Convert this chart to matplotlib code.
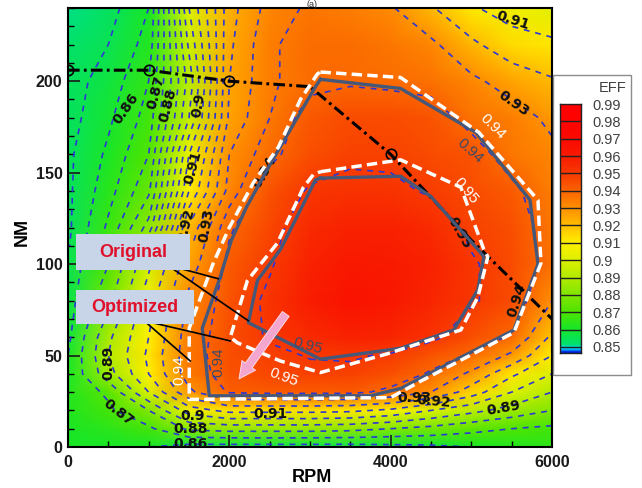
import numpy as np
import matplotlib.pyplot as plt
from matplotlib.colors import LinearSegmentedColormap, Normalize
from matplotlib.patches import Rectangle
from matplotlib.ticker import MultipleLocator

plt.rcParams['font.family'] = ['Liberation Sans', 'DejaVu Sans']

# --- efficiency map (rows = torque, columns = speed) ---
RPM = [0, 500, 1000, 1500, 2000, 2500, 3000, 3500, 4000, 4500, 5000, 5500, 6000]
NM = [0, 10, 20, 30, 40, 50, 60, 80, 100, 120, 140, 160, 180, 200, 220, 240]
EFF = [
    [0.860, 0.860, 0.860, 0.856, 0.856, 0.856, 0.856, 0.856, 0.857, 0.858, 0.860, 0.862, 0.864],
    [0.861, 0.864, 0.868, 0.882, 0.884, 0.884, 0.884, 0.883, 0.880, 0.877, 0.873, 0.870, 0.868],
    [0.862, 0.868, 0.880, 0.905, 0.913, 0.913, 0.913, 0.912, 0.908, 0.900, 0.893, 0.886, 0.880],
    [0.862, 0.872, 0.900, 0.928, 0.941, 0.942, 0.942, 0.942, 0.938, 0.930, 0.915, 0.900, 0.890],
    [0.861, 0.886, 0.910, 0.935, 0.944, 0.947, 0.948, 0.948, 0.945, 0.939, 0.928, 0.912, 0.900],
    [0.860, 0.890, 0.912, 0.936, 0.945, 0.948, 0.9505, 0.951, 0.949, 0.944, 0.939, 0.928, 0.910],
    [0.858, 0.888, 0.910, 0.935, 0.945, 0.951, 0.955, 0.958, 0.957, 0.952, 0.945, 0.939, 0.918],
    [0.856, 0.877, 0.906, 0.932, 0.944, 0.952, 0.960, 0.965, 0.963, 0.957, 0.951, 0.946, 0.930],
    [0.855, 0.870, 0.898, 0.926, 0.942, 0.949, 0.958, 0.962, 0.961, 0.958, 0.951, 0.946, 0.937],
    [0.854, 0.866, 0.882, 0.921, 0.939, 0.947, 0.955, 0.958, 0.958, 0.955, 0.948, 0.945, 0.936],
    [0.854, 0.863, 0.874, 0.910, 0.932, 0.944, 0.951, 0.953, 0.952, 0.949, 0.946, 0.942, 0.934],
    [0.854, 0.861, 0.870, 0.905, 0.930, 0.938, 0.945, 0.948, 0.948, 0.946, 0.944, 0.936, 0.932],
    [0.853, 0.859, 0.867, 0.895, 0.926, 0.935, 0.943, 0.946, 0.946, 0.944, 0.937, 0.934, 0.928],
    [0.853, 0.857, 0.865, 0.892, 0.925, 0.934, 0.938, 0.939, 0.938, 0.937, 0.932, 0.926, 0.921],
    [0.852, 0.855, 0.862, 0.896, 0.924, 0.934, 0.938, 0.938, 0.936, 0.932, 0.922, 0.914, 0.912],
    [0.851, 0.853, 0.860, 0.900, 0.923, 0.932, 0.936, 0.934, 0.931, 0.921, 0.911, 0.906, 0.902],
]

# contour lines of the original design
ORIG_94_RPM = [3130, 4124, 5056, 5727, 5826, 5528, 4124, 3750, 1752, 1665, 1888, 2025, 2211, 2460, 2670, 3068, 3130]
ORIG_94_NM = [201, 196, 172, 135, 100, 64, 32, 28, 28, 65, 93, 113, 131, 151, 167, 197, 201]
ORIG_95_RPM = [3130, 4124, 4497, 5081, 5155, 5081, 4783, 4124, 3130, 2236, 2348, 2634, 3068, 3130]
ORIG_95_NM = [147, 148, 137, 108, 104, 86, 64, 54, 48, 68, 91, 108, 146, 147]

# contour lines of the optimized design
OPT_94_RPM = [3130, 4124, 5093, 5826, 5863, 5528, 4373, 4000, 1503, 1503, 1801, 2000, 2298, 2609, 2882, 3093, 3130]
OPT_94_NM = [205, 202, 172, 135, 100.5, 62.6, 36, 27, 26, 65, 100.5, 120, 144.5, 164, 190, 204, 205]
OPT_95_RPM = [3130, 4124, 4870, 5155, 5205, 5081, 4870, 3963, 3130, 2634, 2099, 2012, 2224, 2596, 2919, 3043, 3130]
OPT_95_NM = [150.5, 157, 142, 108, 104, 82, 64, 51, 40.7, 47, 57, 60, 91, 111.5, 142, 149, 150.5]

# maximum torque curve
TORQUE_RPM = [0, 1000, 2000, 3000, 4000, 5000, 6000]
TORQUE_NM = [206, 206, 200, 197, 160, 113, 70]

LEVELS = [0.86, 0.87, 0.88, 0.89, 0.90, 0.91, 0.92, 0.93, 0.94, 0.95]
FINE_LEVELS = [0.855, 0.865, 0.875, 0.885, 0.895, 0.905, 0.915, 0.925, 0.935]
LEGEND_TICKS = [0.85, 0.86, 0.87, 0.88, 0.89, 0.90, 0.91, 0.92, 0.93, 0.94, 0.95, 0.96, 0.97, 0.98, 0.99]

# inline contour labels: value, rpm, torque, angle
CL_VAL = [0.86, 0.87, 0.88, 0.90, 0.91, 0.92, 0.93, 0.94, 0.89, 0.87, 0.90, 0.88, 0.86, 0.91,
          0.93, 0.92, 0.89, 0.94, 0.95, 0.93, 0.91]
CL_RPM = [720, 1093, 1242, 1615, 1553, 1466, 1714, 2440, 500, 620, 1540, 1516, 1516, 2510,
          4290, 4530, 5400, 5560, 4850, 5530, 5515]
CL_NM = [185, 194, 187, 187, 153, 121, 121, 150, 46, 18.7, 17, 9.8, 1.8, 18,
         27, 25, 21.5, 80, 117, 188, 233]
CL_ROT = [55, 75, 75, 80, 75, 75, 80, 60, 90, -38, 0, 0, 0, 0,
          0, -5, 10, 72, -60, -35, -18]

# labels on the original / optimized lines
OPT_LBL = [(0.94, 1380, 42, 90), (0.94, 5267, 175, -45), (0.95, 2670, 38, -20), (0.95, 4930, 140, -50)]
ORIG_LBL = [(0.94, 1863, 46.5, 90), (0.95, 2970, 55.5, -15), (0.94, 4990, 162, -42)]

cmap_pts = [(0.840, '#0000c0'), (0.8465, '#0020e0'), (0.848, '#00b4ff'), (0.8495, '#00dcc8'),
            (0.851, '#00e070'), (0.860, '#18e628'), (0.870, '#50e400'), (0.880, '#82e600'),
            (0.890, '#b4eb00'), (0.900, '#dcf000'), (0.910, '#fff000'), (0.920, '#ffbe00'),
            (0.930, '#ff9000'), (0.940, '#fa6400'), (0.950, '#f83a00'), (0.960, '#f81c00'),
            (0.970, '#fc0a00'), (0.990, '#ff0000')]
vmin, vmax = 0.84, 0.99
cmap = LinearSegmentedColormap.from_list(
    'eff', [((v - vmin) / (vmax - vmin), c) for v, c in cmap_pts])
norm = Normalize(vmin, vmax)

fig = plt.figure(figsize=(6.42, 4.88), dpi=100)
ax = fig.add_axes([68 / 642, 1 - 447 / 488, 484 / 642, 439 / 488])

ax.pcolormesh(RPM, NM, EFF, shading='gouraud', cmap=cmap, norm=norm, zorder=1)

cs = ax.contour(RPM, NM, EFF, levels=LEVELS, colors='#2c36d4', linewidths=1.2, zorder=2)
cs.set_linestyle((0, (3.5, 3.5)))
cs2 = ax.contour(RPM, NM, EFF, levels=FINE_LEVELS, colors='#2c36d4', linewidths=1.2, zorder=2)
cs2.set_linestyle((0, (3.5, 3.5)))
cs2.set_clip_path(Rectangle((0, 110), 3200, 140, transform=ax.transData))

for v, x, y, r in zip(CL_VAL, CL_RPM, CL_NM, CL_ROT):
    ax.text(x, y, f'{v:g}', rotation=r, ha='center', va='center', fontsize=10,
            fontweight='bold', family='DejaVu Sans', color='#111111', zorder=3, clip_on=True)

# torque curve
ax.plot(TORQUE_RPM, TORQUE_NM, color='k', lw=2.2, ls=(0, (3.8, 1.4, 0.9, 1.4)),
        marker='o', ms=7.5, mfc='none', mec='k', mew=1.2, markevery=[0, 1, 2, 4], zorder=4)

# original (solid) and optimized (white dashed) contours
ax.plot(ORIG_94_RPM, ORIG_94_NM, color='#46587a', lw=2.4, zorder=5)
ax.plot(ORIG_95_RPM, ORIG_95_NM, color='#46587a', lw=2.4, zorder=5)
ax.plot(OPT_94_RPM, OPT_94_NM, color='white', lw=2.5, ls=(0, (3, 1.5)), zorder=5)
ax.plot(OPT_95_RPM, OPT_95_NM, color='white', lw=2.5, ls=(0, (3, 1.5)), zorder=5)

for v, x, y, r in OPT_LBL:
    ax.text(x, y, f'{v:g}', rotation=r, ha='center', va='center', fontsize=11,
            color='white', zorder=6)
for v, x, y, r in ORIG_LBL:
    ax.text(x, y, f'{v:g}', rotation=r, ha='center', va='center', fontsize=11,
            color='#3c4a66', zorder=6)

# Original / Optimized callouts
for tip in [(1863, 92), (2236, 69)]:
    ax.plot([1230, tip[0]], [99.5, tip[1]], color='k', lw=1.2, zorder=7)
for tip in [(2012, 58), (1516, 47)]:
    ax.plot([944, tip[0]], [69, tip[1]], color='k', lw=1.2, zorder=7)
ax.add_patch(Rectangle((100, 96.8), 1412, 19.4, fc='#c8d4e8', ec='none', zorder=8))
ax.add_patch(Rectangle((100, 67), 1460, 19, fc='#c8d4e8', ec='none', zorder=8))
ax.text(806, 106.5, 'Original', ha='center', va='center', fontsize=13,
        fontweight='bold', color='#e0102a', zorder=9)
ax.text(830, 76.5, 'Optimized', ha='center', va='center', fontsize=13,
        fontweight='bold', color='#e0102a', zorder=9)

# arrow from original toward optimized
ax.annotate('', xy=(2100, 36), xytext=(2720, 74), zorder=9,
            arrowprops=dict(arrowstyle='simple,head_length=1.0,head_width=1.0,tail_width=0.5',
                            mutation_scale=12, fc='#f4a6cf', ec='#fbe3ef', lw=0.6))

ax.set_xlim(0, 6000)
ax.set_ylim(0, 240)
ax.set_xticks([0, 2000, 4000, 6000])
ax.set_yticks([0, 50, 100, 150, 200])
ax.xaxis.set_minor_locator(MultipleLocator(500))
ax.yaxis.set_minor_locator(MultipleLocator(10))
ax.tick_params(which='major', direction='in', length=8.5, width=1.2, labelsize=11.5, colors='#1a1a1a')
ax.tick_params(which='minor', direction='in', length=4.5, width=1.0)
ax.tick_params(axis='x', pad=6)
ax.tick_params(axis='y', pad=4)
for lbl in ax.get_xticklabels() + ax.get_yticklabels():
    lbl.set_fontweight('bold')
for sp in ax.spines.values():
    sp.set_linewidth(1.5)

fig.text(312 / 642, 1 - 478 / 488, 'RPM', ha='center', va='center', fontsize=13, fontweight='bold')
fig.text(22 / 642, 1 - 232 / 488, 'NM', ha='center', va='center', rotation=90,
         fontsize=13, fontweight='bold')
fig.text(312 / 642, 0.999, '(a)', ha='center', va='top', fontsize=6.5, color='#333333')

# legend panel
fig.patches.append(Rectangle((553 / 642, 1 - 375 / 488), 78 / 642, 300 / 488,
                             transform=fig.transFigure, fc='white', ec='#8c8c8c', lw=1.0, zorder=1))
fig.text(613 / 642, 1 - 88 / 488, 'EFF', ha='center', va='center', fontsize=10.5, color='#404040', zorder=3)
cax = fig.add_axes([560 / 642, 1 - 353 / 488, 21 / 642, 249 / 488])
cax.set_zorder(2)
bar = np.linspace(0.8465, 0.99, 300).reshape(-1, 1)
cax.imshow(bar, cmap=cmap, norm=norm, aspect='auto', origin='lower', extent=[0, 1, 0.8465, 0.99])
cax.hlines(LEGEND_TICKS[:-1], 0, 1, colors='#222222', lw=1.0)
cax.set_xlim(0, 1)
cax.set_ylim(0.8465, 0.99)
cax.set_xticks([])
cax.yaxis.tick_right()
cax.set_yticks(LEGEND_TICKS)
cax.set_yticklabels([f'{v:g}' for v in LEGEND_TICKS])
cax.tick_params(axis='y', length=0, pad=8, labelsize=10.5, labelcolor='#404040')
for sp in cax.spines.values():
    sp.set_linewidth(1.0)
    sp.set_color('#222222')

fig.savefig('out.png', dpi=100)
